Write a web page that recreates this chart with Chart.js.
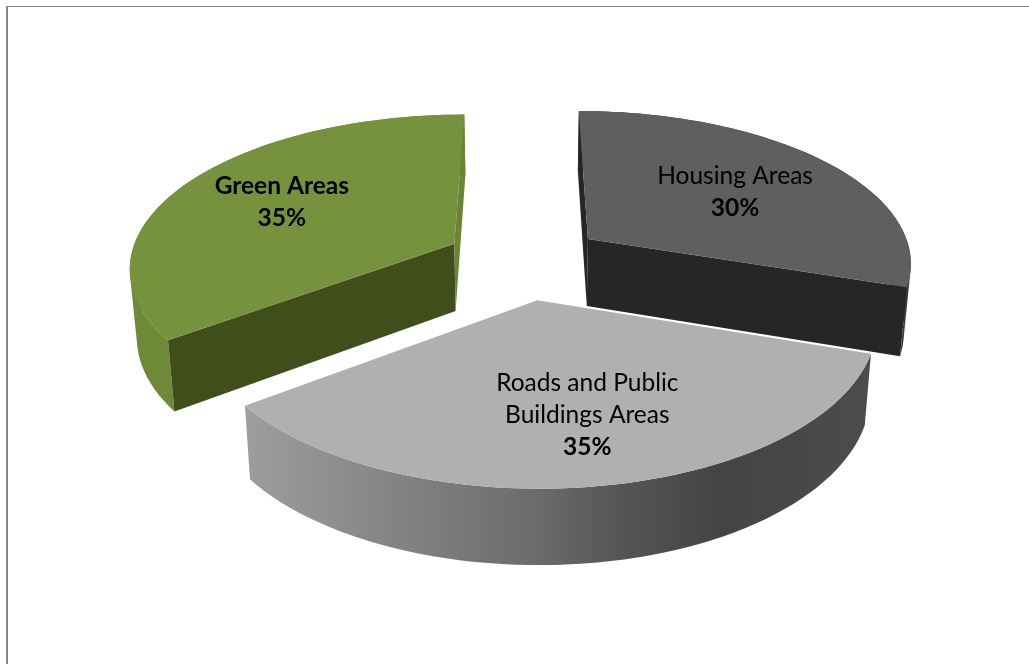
<!DOCTYPE html>
<html>
<head>
<meta charset="utf-8">
<title>Land use</title>
<script src="https://cdn.jsdelivr.net/npm/chart.js@4"></script>
<style>
html, body { margin: 0; padding: 0; background: #fff; }
#wrap { position: relative; width: 1029px; height: 664px; overflow: hidden; }
#frame { position: absolute; left: 6px; top: 6px; width: 1200px; height: 900px; border-left: 2px solid #868686; border-top: 1px solid #868686; box-sizing: border-box; }
canvas { position: absolute; left: 0; top: 0; }
</style>
</head>
<body>
<div id="wrap">
    <div id="frame"></div>
    <canvas id="landChart" width="1029" height="664"></canvas>
</div>
<script>
const categories = ['Housing Areas', 'Roads and Public Buildings Areas', 'Green Areas'];
const shares = [30, 35, 35];
const labelLines = [['Housing Areas'], ['Roads and Public', 'Buildings Areas'], ['Green Areas']];
const labelBold = [false, false, true];
const topColors = ['#5f5f5f', '#b0b0b0', '#76923c'];
const startCutColors = ['#262626', '#3a3a3a', '#404e1c'];
const endCutColors = ['#262626', '#3a3a3a', '#6a8536'];
const wallColors = ['#3c3c3c', null, '#6e8a38'];

// back to front, so the near slice paints over the others
const drawOrder = [2, 0, 1];

const TILT = 0.48;
const PERSP_X = 0.14;
const PERSP_Y = 0.14;
const DEPTH = 68;
const DEPTH_PERSP = 0.1;
const DEPTH_SHRINK = 0.018;
const LABEL_RADIUS = [0.595, 0.65, 0.642];
const LABEL_TURN = [0.04, -0.05, 0];

function project(el, u, v, level) {
    const R = el.outerRadius;
    const shrink = 1 - DEPTH_SHRINK * level;
    return {
        x: el.x + u * (1 + PERSP_X * v / R) * shrink,
        y: el.y + TILT * v * (1 + PERSP_Y * v / R) + level * DEPTH * (1 + DEPTH_PERSP * v / R),
    };
}

function slicePoint(el, angle, radius, level) {
    const mid = (el.startAngle + el.endAngle) / 2;
    const off = el.options.offset || 0;
    const u = off * Math.cos(mid) + radius * Math.cos(angle);
    const v = off * Math.sin(mid) + radius * Math.sin(angle);
    return project(el, u, v, level);
}

function arcPoints(el, level) {
    const pts = [];
    const steps = 60;
    for (let i = 0; i <= steps; i++) {
        const a = el.startAngle + (el.endAngle - el.startAngle) * i / steps;
        pts.push(slicePoint(el, a, el.outerRadius, level));
    }
    return pts;
}

function tracePoly(ctx, pts) {
    pts.forEach((p, i) => (i ? ctx.lineTo(p.x, p.y) : ctx.moveTo(p.x, p.y)));
    ctx.closePath();
}

function fillPoly(ctx, pts, fill) {
    ctx.beginPath();
    tracePoly(ctx, pts);
    ctx.fillStyle = fill;
    ctx.fill();
}

function polyArea(pts) {
    let sum = 0;
    pts.forEach((p, i) => {
        const q = pts[(i + 1) % pts.length];
        sum += p.x * q.y - q.x * p.y;
    });
    return sum;
}

function roadsWallFill(ctx, pts) {
    const left = Math.min(...pts.map((p) => p.x));
    const right = Math.max(...pts.map((p) => p.x));
    const grad = ctx.createLinearGradient(left, 0, right, 0);
    grad.addColorStop(0, '#9e9e9e');
    grad.addColorStop(0.475, '#6a6a6a');
    grad.addColorStop(0.6, '#555555');
    grad.addColorStop(0.76, '#444444');
    grad.addColorStop(1, '#4c4c4c');
    return grad;
}

// one path of same-wound quads: the swept outline has no notch and no seams
function drawWall(ctx, top, bottom, fill) {
    ctx.beginPath();
    for (let k = 0; k < top.length - 1; k++) {
        const quad = [top[k], top[k + 1], bottom[k + 1], bottom[k]];
        tracePoly(ctx, polyArea(quad) < 0 ? quad.reverse() : quad);
    }
    ctx.fillStyle = fill;
    ctx.fill();
}

function side(a, b, p) {
    return (b.x - a.x) * (p.y - a.y) - (b.y - a.y) * (p.x - a.x);
}

// a cut face shows only when its lower edge falls outside the slice's top
function drawCut(ctx, apexTop, apexBottom, cornerTop, cornerBottom, inner, fill) {
    if (side(apexTop, cornerTop, cornerBottom) * side(apexTop, cornerTop, inner) < 0) {
        fillPoly(ctx, [apexTop, cornerTop, cornerBottom, apexBottom], fill);
    }
}

const slice3d = {
    id: 'slice3d',
    beforeDatasetDraw(chart) {
        const ctx = chart.ctx;
        const arcs = chart.getDatasetMeta(0).data;
        ctx.save();
        drawOrder.forEach((i) => {
            const el = arcs[i];
            const top = arcPoints(el, 0);
            const bottom = arcPoints(el, 1);
            const last = top.length - 1;
            const inner = top[Math.floor(last / 2)];
            const apexTop = slicePoint(el, 0, 0, 0);
            const apexBottom = slicePoint(el, 0, 0, 1);

            drawWall(ctx, top, bottom, wallColors[i] || roadsWallFill(ctx, top.concat(bottom)));
            drawCut(ctx, apexTop, apexBottom, top[0], bottom[0], inner, startCutColors[i]);
            drawCut(ctx, apexTop, apexBottom, top[last], bottom[last], inner, endCutColors[i]);
            fillPoly(ctx, [apexTop].concat(top), topColors[i]);
        });
        ctx.restore();
        return false;
    },
    afterDatasetsDraw(chart) {
        const ctx = chart.ctx;
        const arcs = chart.getDatasetMeta(0).data;
        ctx.save();
        ctx.textAlign = 'center';
        ctx.textBaseline = 'middle';
        ctx.fillStyle = '#000';
        arcs.forEach((el, i) => {
            const mid = (el.startAngle + el.endAngle) / 2 + LABEL_TURN[i];
            const pos = slicePoint(el, mid, el.outerRadius * LABEL_RADIUS[i], 0);
            const lines = labelLines[i].concat(shares[i] + '%');
            const lineHeight = 32;
            lines.forEach((line, n) => {
                const bold = labelBold[i] || n === lines.length - 1;
                ctx.font = (bold ? 'bold ' : '') + '24.5px Lato, sans-serif';
                ctx.fillText(line, pos.x, pos.y + (n - (lines.length - 1) / 2) * lineHeight);
            });
        });
        ctx.restore();
    },
};

new Chart(document.getElementById('landChart').getContext('2d'), {
    type: 'pie',
    data: {
        labels: categories,
        datasets: [
            {
                data: shares,
                backgroundColor: topColors,
                borderWidth: 0,
                offset: 80,
            },
        ],
    },
    options: {
        responsive: false,
        animation: false,
        rotation: 0,
        radius: 325,
        layout: {
            padding: { left: 20, bottom: 142 },
        },
        plugins: {
            legend: { display: false },
            tooltip: { enabled: false },
        },
    },
    plugins: [slice3d],
});
</script>
</body>
</html>
